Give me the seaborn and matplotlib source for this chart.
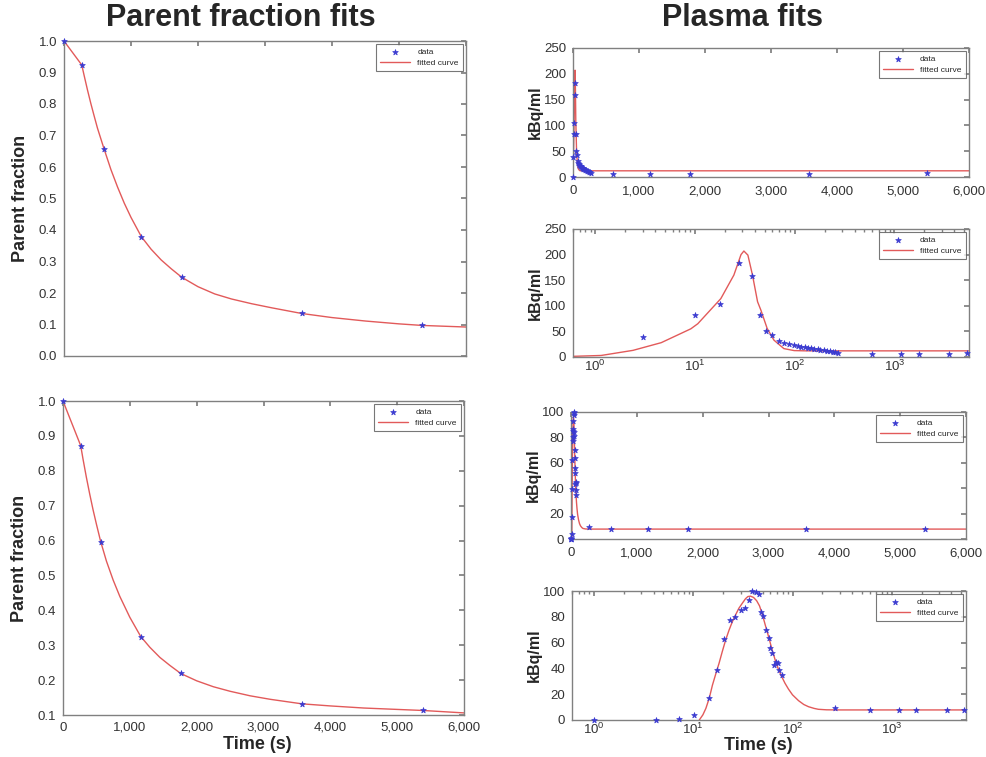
import numpy as np
import pandas as pd
import matplotlib
matplotlib.use("Agg")
import matplotlib.pyplot as plt
import seaborn as sns
from matplotlib.ticker import StrMethodFormatter, MultipleLocator

# parent fraction, subject 1 (top) and subject 2 (bottom)
pf_time_1 = [0, 265, 597, 1154, 1757, 3547, 5348]
pf_val_1 = [1.0, 0.924, 0.658, 0.379, 0.25, 0.135, 0.097]
pf_fit_t_1 = [0, 265, 300, 350, 400, 450, 500, 597, 700, 800, 900, 1000, 1154, 1300, 1450, 1600,
              1757, 2000, 2250, 2500, 2800, 3100, 3547, 4000, 4500, 5000, 5348, 6000]
pf_fit_v_1 = [1.0, 0.924, 0.891, 0.845, 0.802, 0.762, 0.723, 0.658, 0.592, 0.536, 0.485, 0.44, 0.379,
              0.339, 0.305, 0.277, 0.25, 0.22, 0.197, 0.181, 0.166, 0.153, 0.135, 0.122, 0.111,
              0.102, 0.097, 0.092]

pf_time_2 = [0, 265, 564, 1163, 1762, 3575, 5382]
pf_val_2 = [1.0, 0.872, 0.597, 0.325, 0.219, 0.132, 0.113]
pf_fit_t_2 = [0, 265, 300, 350, 400, 450, 500, 564, 650, 750, 850, 1000, 1163, 1300, 1450, 1600,
              1762, 2000, 2250, 2500, 2800, 3100, 3575, 4000, 4500, 5000, 5382, 6000]
pf_fit_v_2 = [1.0, 0.872, 0.833, 0.781, 0.733, 0.688, 0.647, 0.597, 0.541, 0.487, 0.44, 0.38, 0.325,
              0.294, 0.265, 0.242, 0.219, 0.198, 0.181, 0.168, 0.155, 0.145, 0.132, 0.126, 0.12,
              0.116, 0.113, 0.106]

# plasma activity, subject 1
pl_time_1 = [0, 3, 10, 18, 28, 37, 45, 52, 60, 70, 78, 87, 98, 107, 116, 126, 136, 147, 158,
             170, 181, 195, 210, 225, 240, 255, 270, 600, 1170, 1770, 3570, 5370]
pl_val_1 = [0, 39, 83, 104, 183, 158, 83, 50, 42, 31, 28, 25.5, 23, 21.5, 20.5, 19, 18, 17, 16,
            15, 14, 13, 12, 11, 10, 9, 8, 5, 5.5, 5.5, 6.5, 7.5]
pl_fit_t_1 = [0, 0.6, 1.15, 2.4, 4.6, 9.1, 10.7, 18.2, 24.6, 29, 31, 34, 37.8, 42.5, 46, 53, 62, 78,
              99, 130, 6000]
pl_fit_v_1 = [0, 1.3, 3, 13, 28, 55, 65, 114, 160, 200, 207, 199, 160, 108, 91, 56, 33, 16.4,
              12.5, 12, 12]

# plasma activity, subject 2
pl_time_2 = [0, 1, 4.2, 7.2, 10.2, 14.4, 17.5, 20.4, 23.4, 26.6, 30.5, 33.5, 36.8, 39.2, 42.5, 46,
             48.6, 51, 54, 57.4, 59.7, 62, 65.5, 68.5, 71, 73.8, 78, 270, 600, 1170, 1770, 3570, 5370]
pl_val_2 = [0, 0, 0, 0.5, 4, 17, 39, 62.5, 77.5, 80, 85, 87, 93, 100, 99, 98,
            84, 81, 70, 63.5, 56, 52, 43, 44.7, 44, 38.5, 35, 9.5, 7.7, 7.7, 7.7, 7.8, 7.8]
pl_fit_t_2 = [0, 11.5, 12.5, 13.4, 14.5, 15.6, 16.9, 18.2, 19.6, 21.2, 22.9, 24.7, 26.7, 28.8, 31.2,
              33.6, 35.5, 37.8, 40.5, 43.5, 46.5, 49.4, 53, 57.5, 62, 67, 72, 78, 84, 91, 100, 115,
              130, 145, 165, 182, 220, 300, 6000]
pl_fit_v_2 = [0, 0, 4, 9, 17, 27, 36, 44, 53, 62, 69.5, 76, 81.5, 86.6, 90.5, 94, 95.7, 96, 95,
              92.5, 88.5, 82.5, 74, 64.4, 55, 46.4, 39.5, 33.5, 28.5, 24, 19.5, 15, 12, 10.3, 9,
              8.3, 7.9, 7.8, 7.8]

sns.set_theme(style="white")
plt.rcParams['font.family'] = ['Liberation Sans', 'DejaVu Sans']
plt.rcParams['mathtext.fontset'] = 'custom'
plt.rcParams['mathtext.rm'] = 'Liberation Sans'
plt.rcParams['mathtext.default'] = 'regular'

W, H = 986, 757
fig = plt.figure(figsize=(W / 100, H / 100), dpi=100)


def box(x0, y0, x1, y1):
    return [x0 / W, (H - y1) / H, (x1 - x0) / W, (y1 - y0) / H]


DOT = '#3a3ad0'
RED = '#e25a5a'
GRAY = '#808080'
TXT = '#333333'


def draw(ax, t, v, ft, fv, logx=False):
    d = pd.DataFrame({'t': t, 'v': v})
    f = pd.DataFrame({'t': ft, 'v': fv})
    if logx:
        d = d[d.t > 0]
        f = f[f.t > 0]
    sns.scatterplot(data=d, x='t', y='v', marker='*', s=18, color=DOT, edgecolor=DOT,
                    linewidth=0.5, label='data', ax=ax, zorder=3, clip_on=False)
    sns.lineplot(data=f, x='t', y='v', color=RED, lw=1.0, label='fitted curve', ax=ax,
                 estimator=None, sort=False)
    if logx:
        ax.set_xscale('log')
    for s in ax.spines.values():
        s.set_color(GRAY)
        s.set_linewidth(1.0)
    ax.tick_params(which='both', direction='in', top=True, right=True, color=GRAY,
                   labelsize=9.5, labelcolor=TXT, pad=5)
    ax.tick_params(which='major', length=3.5)
    ax.tick_params(which='minor', length=2)
    ax.set_xlabel('')
    ax.set_ylabel('')
    leg = ax.legend(loc='upper right', fontsize=6, frameon=True, fancybox=False,
                    edgecolor='#555555', handlelength=3.6, borderpad=0.5,
                    labelspacing=0.35, borderaxespad=0.4)
    leg.get_frame().set_linewidth(0.8)


# left column
ax1 = fig.add_axes(box(64, 41, 466, 356))
draw(ax1, pf_time_1, pf_val_1, pf_fit_t_1, pf_fit_v_1)
ax1.set_xlim(0, 6000)
ax1.set_ylim(0, 1.0)
ax1.xaxis.set_major_locator(MultipleLocator(1000))
ax1.yaxis.set_major_locator(MultipleLocator(0.1))
ax1.yaxis.set_major_formatter(StrMethodFormatter('{x:.1f}'))
ax1.set_xticklabels([])
ax1.set_ylabel('Parent fraction', fontsize=13, fontweight='bold', labelpad=7)

ax2 = fig.add_axes(box(63, 401, 464, 715))
draw(ax2, pf_time_2, pf_val_2, pf_fit_t_2, pf_fit_v_2)
ax2.set_xlim(0, 6000)
ax2.set_ylim(0.1, 1.0)
ax2.xaxis.set_major_locator(MultipleLocator(1000))
ax2.xaxis.set_major_formatter(StrMethodFormatter('{x:,.0f}'))
ax2.yaxis.set_major_locator(MultipleLocator(0.1))
ax2.yaxis.set_major_formatter(StrMethodFormatter('{x:.1f}'))
ax2.set_ylabel('Parent fraction', fontsize=13, fontweight='bold', labelpad=7)
ax2.set_xlabel('Time (s)', fontsize=13, fontweight='bold')
ax2.xaxis.set_label_coords((257 - 63) / 401, -(736 - 715) / 314)

# right column
r1 = fig.add_axes(box(573, 48, 969, 177))
draw(r1, pl_time_1, pl_val_1, pl_fit_t_1, pl_fit_v_1)
r1.set_xlim(0, 6000)
r1.set_ylim(0, 250)

r2 = fig.add_axes(box(573, 229, 969, 357))
draw(r2, pl_time_1, pl_val_1, pl_fit_t_1, pl_fit_v_1, logx=True)
r2.set_xlim(0.6, 5600)
r2.set_ylim(0, 250)

r3 = fig.add_axes(box(571, 412, 966, 539))
draw(r3, pl_time_2, pl_val_2, pl_fit_t_2, pl_fit_v_2)
r3.set_xlim(0, 6000)
r3.set_ylim(0, 100)

r4 = fig.add_axes(box(572, 591, 966, 720))
draw(r4, pl_time_2, pl_val_2, pl_fit_t_2, pl_fit_v_2, logx=True)
r4.set_xlim(0.6, 5600)
r4.set_ylim(0, 100)
r4.set_xlabel('Time (s)', fontsize=13, fontweight='bold')
r4.xaxis.set_label_coords((758 - 572) / 394, -(737 - 720) / 129)

for ax in (r1, r3):
    ax.xaxis.set_major_locator(MultipleLocator(1000))
    ax.xaxis.set_major_formatter(StrMethodFormatter('{x:,.0f}'))
    ax.tick_params(axis='x', pad=6)
for ax in (r2, r4):
    ax.tick_params(axis='x', which='both', pad=1.5)
for ax in (r1, r2):
    ax.yaxis.set_major_locator(MultipleLocator(50))
for ax in (r3, r4):
    ax.yaxis.set_major_locator(MultipleLocator(20))
for ax in (r1, r2, r3, r4):
    ax.set_ylabel('kBq/ml', fontsize=11.5, fontweight='bold', labelpad=1)

fig.text(241 / W, 1 - 18 / H, 'Parent fraction fits', ha='center', va='center',
         fontsize=22, fontweight='bold')
fig.text(742 / W, 1 - 18 / H, 'Plasma fits', ha='center', va='center',
         fontsize=22, fontweight='bold')

fig.savefig('out.png', dpi=100)
